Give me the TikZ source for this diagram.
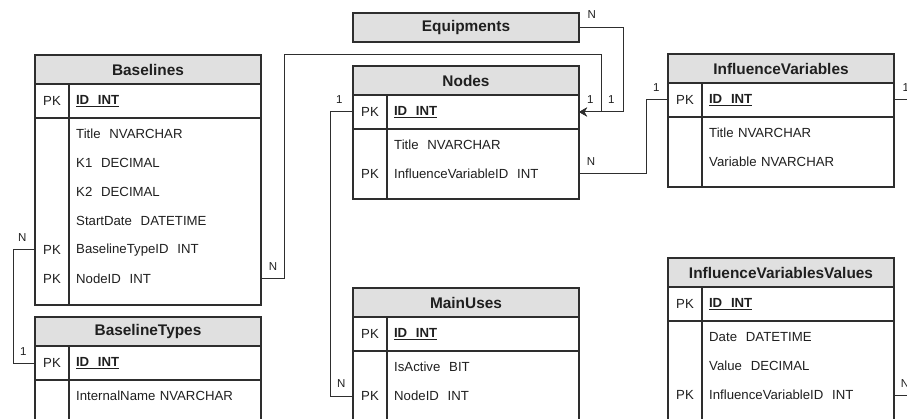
\documentclass[tikz,border=0pt]{standalone}
\usepackage{fontspec}
\setmainfont{Liberation Sans}
\usepackage{tikz}
\usetikzlibrary{arrows.meta,positioning}
\definecolor{headgray}{HTML}{E0E0E0}
\definecolor{linegray}{HTML}{2E2E2E}
\definecolor{inkgray}{HTML}{1F1F1F}

\begin{document}
\begin{tikzpicture}[x=1pt,y=-1pt]
\tikzstyle{cell}=[draw=linegray, line width=1.2pt, inner sep=0pt, outer sep=0pt, anchor=north west, text=inkgray, font=\fontsize{13.2}{15}\selectfont]
\tikzstyle{tblhead}=[cell, fill=headgray, minimum width=226pt, minimum height=29pt, font=\fontsize{15.4}{18}\selectfont\bfseries]
\tikzstyle{keycell}=[cell, minimum width=34pt]
\tikzstyle{colcell}=[cell, text width=178pt, inner xsep=7pt, align=left]
\tikzstyle{pkcol}=[colcell, minimum height=34pt, font=\fontsize{13.2}{15}\selectfont\bfseries]
\tikzstyle{field}=[anchor=west, text width=178pt, inner xsep=7pt, inner ysep=0pt, minimum height=29pt, align=left, text=inkgray, font=\fontsize{13.2}{15}\selectfont]
\tikzstyle{keytext}=[text=inkgray, font=\fontsize{13.2}{15}\selectfont]
\tikzstyle{card}=[inner sep=0pt, text=inkgray, font=\fontsize{11.5}{13}\selectfont]
\tikzstyle{link}=[draw=linegray, line width=1pt]
\tikzstyle{ref}=[link, -{Stealth[length=8pt, width=9pt, inset=2.5pt]}]

\useasboundingbox (0,0) rectangle (907,419);

% Baselines
\node[tblhead] (bl) at (35,55) {Baselines};
\node[keycell, minimum height=34pt] (bl-pk) at (bl.south west) {PK};
\node[pkcol] (bl-id) at (bl-pk.north east) {\underline{ID\ \ INT}};
\node[keycell, minimum height=187pt] (bl-k) at (bl-pk.south west) {};
\node[colcell, minimum height=187pt] (bl-c) at (bl-k.north east) {};
\foreach \f [count=\i] in {Title\ \ NVARCHAR, K1\ \ DECIMAL, K2\ \ DECIMAL, StartDate\ \ DATETIME, BaselineTypeID\ \ INT, NodeID\ \ INT}
  \node[field] (bl-f\i) at ([yshift={13pt-29pt*\i}]bl-c.north west) {\f};
\node[keytext] at (bl-k.center |- bl-f5.center) {PK};
\node[keytext] at (bl-k.center |- bl-f6.center) {PK};

% BaselineTypes
\node[tblhead] (bt) at (35,317) {BaselineTypes};
\node[keycell, minimum height=34pt] (bt-pk) at (bt.south west) {PK};
\node[pkcol] (bt-id) at (bt-pk.north east) {\underline{ID\ \ INT}};
\node[keycell, minimum height=80pt] (bt-k) at (bt-pk.south west) {};
\node[colcell, minimum height=80pt] (bt-c) at (bt-k.north east) {};
\node[field] (bt-f1) at ([yshift=-16pt]bt-c.north west) {InternalName NVARCHAR};

% Equipments
\node[tblhead] (eq) at (353,13) {Equipments};

% Nodes
\node[tblhead] (nd) at (353,66) {Nodes};
\node[keycell, minimum height=34pt] (nd-pk) at (nd.south west) {PK};
\node[pkcol] (nd-id) at (nd-pk.north east) {\underline{ID\ \ INT}};
\node[keycell, minimum height=70pt] (nd-k) at (nd-pk.south west) {};
\node[colcell, minimum height=70pt] (nd-c) at (nd-k.north east) {};
\foreach \f [count=\i] in {Title\ \ NVARCHAR, InfluenceVariableID\ \ INT}
  \node[field] (nd-f\i) at ([yshift={13pt-29pt*\i}]nd-c.north west) {\f};
\node[keytext] at (nd-k.center |- nd-f2.center) {PK};

% InfluenceVariables
\node[tblhead] (iv) at (668,54) {InfluenceVariables};
\node[keycell, minimum height=34pt] (iv-pk) at (iv.south west) {PK};
\node[pkcol] (iv-id) at (iv-pk.north east) {\underline{ID\ \ INT}};
\node[keycell, minimum height=70pt] (iv-k) at (iv-pk.south west) {};
\node[colcell, minimum height=70pt] (iv-c) at (iv-k.north east) {};
\foreach \f [count=\i] in {Title NVARCHAR, Variable NVARCHAR}
  \node[field] (iv-f\i) at ([yshift={13pt-29pt*\i}]iv-c.north west) {\f};

% MainUses
\node[tblhead] (mu) at (353,288) {MainUses};
\node[keycell, minimum height=34pt] (mu-pk) at (mu.south west) {PK};
\node[pkcol] (mu-id) at (mu-pk.north east) {\underline{ID\ \ INT}};
\node[keycell, minimum height=90pt] (mu-k) at (mu-pk.south west) {};
\node[colcell, minimum height=90pt] (mu-c) at (mu-k.north east) {};
\foreach \f [count=\i] in {IsActive\ \ BIT, NodeID\ \ INT}
  \node[field] (mu-f\i) at ([yshift={13pt-29pt*\i}]mu-c.north west) {\f};
\node[keytext] at (mu-k.center |- mu-f2.center) {PK};

% InfluenceVariablesValues
\node[tblhead] (ivv) at (668,258) {InfluenceVariablesValues};
\node[keycell, minimum height=34pt] (ivv-pk) at (ivv.south west) {PK};
\node[pkcol] (ivv-id) at (ivv-pk.north east) {\underline{ID\ \ INT}};
\node[keycell, minimum height=120pt] (ivv-k) at (ivv-pk.south west) {};
\node[colcell, minimum height=120pt] (ivv-c) at (ivv-k.north east) {};
\foreach \f [count=\i] in {Date\ \ DATETIME, Value\ \ DECIMAL, InfluenceVariableID\ \ INT}
  \node[field] (ivv-f\i) at ([yshift={13pt-29pt*\i}]ivv-c.north west) {\f};
\node[keytext] at (ivv-k.center |- ivv-f3.center) {PK};

% relations
\coordinate (bend) at (601,55);
\coordinate (rim) at (920,0);
\draw[link] (bl-k.west |- bl-f5.center) node[card, above left=8pt and 8pt] {N} -- ++(-22,0) |- (bt-pk.west) node[card, above left=7pt and 8pt] {1};
\draw[ref] (bl-f6.east) node[card, above right=8pt and 7pt] {N} -- ++(23,0) |- (bend) |- node[card, pos=0.5, above left=8pt and 7pt] {1} (nd-id.east);
\draw[ref] (eq.east) node[card, above right=8pt and 8pt] {N} -- ++(44,0) |- node[card, pos=0.5, above left=8pt and 8pt] {1} (nd-id.east);
\draw[link] (nd-f2.east) node[card, above right=8pt and 7pt] {N} -- ++(67,0) |- (iv-pk.west) node[card, above left=8pt and 8pt] {1};
\draw[link] (nd-pk.west) node[card, above left=8pt and 10pt] {1} -- ++(-23,0) |- (mu-k.west |- mu-f2.center) node[card, above left=8pt and 7pt] {N};
\draw[link] (iv-id.east) node[card, above right=8pt and 8pt] {1} -- (iv-id.east -| rim);
\draw[link] (ivv-f3.east) node[card, above right=7pt and 6pt] {N} -- (ivv-f3.east -| rim);
\end{tikzpicture}
\end{document}
